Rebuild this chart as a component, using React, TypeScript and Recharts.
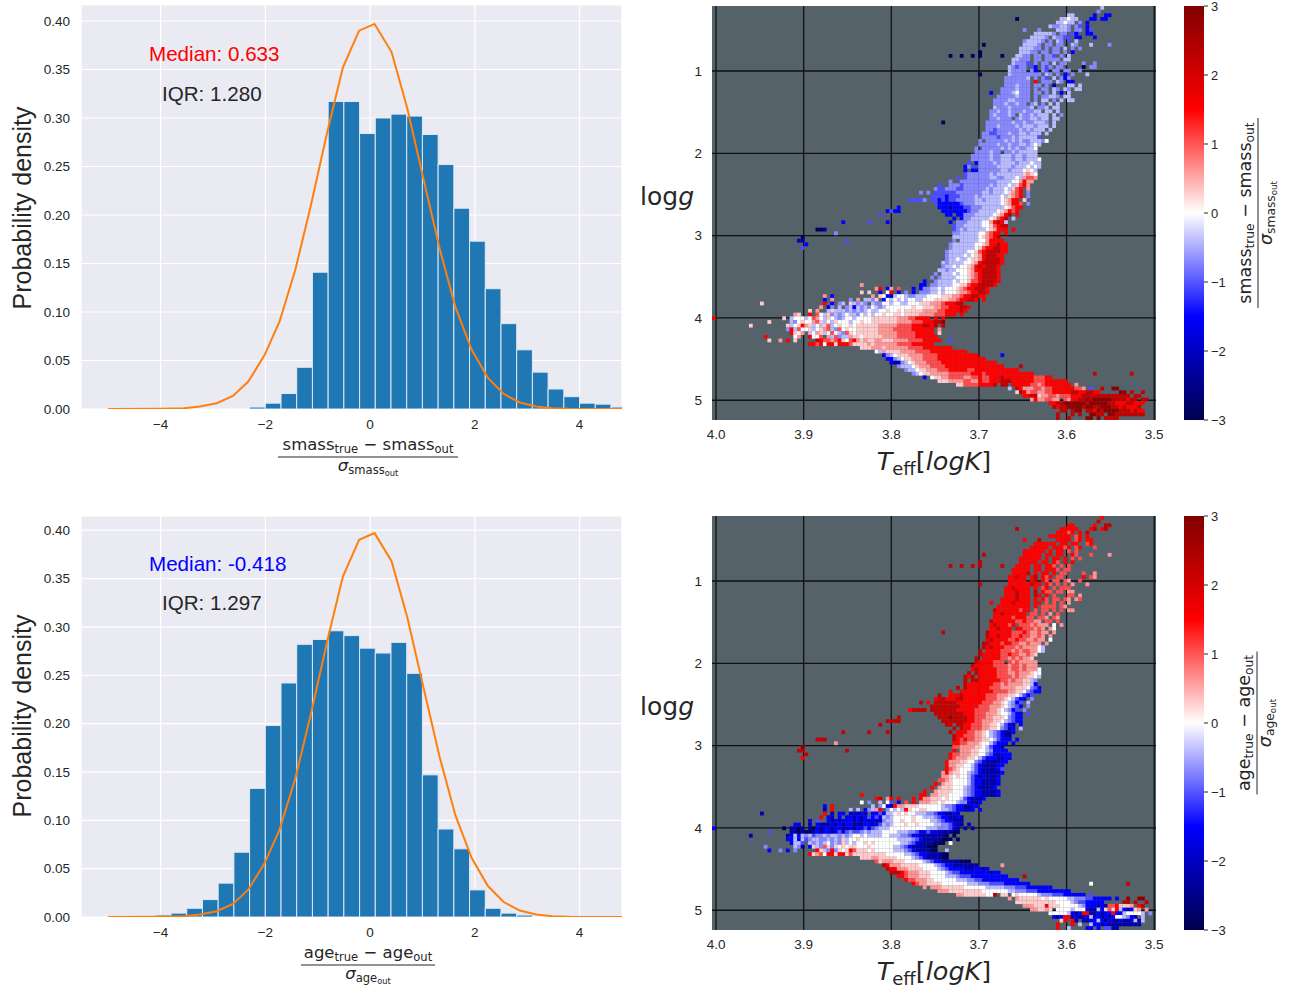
import React from 'react'
import {
  Bar, CartesianGrid, ComposedChart, Line, ReferenceLine, Scatter, ScatterChart, XAxis, YAxis,
} from 'recharts'

const INK = '#262626'
const SANS = '"Liberation Sans", Arial, sans-serif'
const MATH = '"DejaVu Sans", sans-serif'

// histogram bins (centre, density)
const smassBins = [-2.15, -1.85, -1.55, -1.25, -0.95, -0.65, -0.35, -0.05, 0.25, 0.55, 0.85, 1.15, 1.45, 1.75, 2.05, 2.35, 2.65, 2.95, 3.25, 3.55, 3.85, 4.15, 4.45, 4.75]
const smassDensity = [0.002, 0.006, 0.016, 0.043, 0.141, 0.317, 0.317, 0.284, 0.3, 0.304, 0.302, 0.283, 0.252, 0.207, 0.173, 0.124, 0.088, 0.061, 0.038, 0.0206, 0.0127, 0.006, 0.005, 0.002]
const ageBins = [-4.25, -3.95, -3.65, -3.35, -3.05, -2.75, -2.45, -2.15, -1.85, -1.55, -1.25, -0.95, -0.65, -0.35, -0.05, 0.25, 0.55, 0.85, 1.15, 1.45, 1.75, 2.05, 2.35, 2.65, 2.95]
const ageDensity = [0.0005, 0.002, 0.004, 0.009, 0.018, 0.035, 0.067, 0.133, 0.198, 0.242, 0.282, 0.287, 0.296, 0.291, 0.278, 0.273, 0.284, 0.252, 0.147, 0.091, 0.0705, 0.028, 0.009, 0.004, 0.002]

// orange reference curve, as drawn
const curveX = [-5, -4, -3.55, -3.25, -2.93, -2.62, -2.33, -2.02, -1.73, -1.43, -1.13, -0.82, -0.52, -0.21, 0.085, 0.41, 0.71, 1.02, 1.33, 1.63, 1.94, 2.25, 2.55, 2.86, 3.17, 3.47, 3.8, 4.8, 5]
const curveY = [0, 0.0002, 0.0008, 0.0025, 0.006, 0.0135, 0.028, 0.055, 0.09, 0.143, 0.21, 0.285, 0.352, 0.39, 0.397, 0.368, 0.31, 0.237, 0.165, 0.105, 0.061, 0.032, 0.0155, 0.0067, 0.0026, 0.0009, 0.0003, 0, 0]

const histXTicks = [-4, -2, 0, 2, 4]
const histYTicks = [0, 0.05, 0.1, 0.15, 0.2, 0.25, 0.3, 0.35, 0.4]
const teffTicks = [4.0, 3.9, 3.8, 3.7, 3.6, 3.5]
const loggTicks = [1, 2, 3, 4, 5]
const barTicks = [-3, -2, -1, 0, 1, 2, 3]

// heatmap letters -> binned residual
const levels: Record<string, number> = { a: -2.9, b: -2.2, c: -1.5, d: -1.05, e: -0.7, f: -0.4, w: 0, g: 0.3, h: 0.62, i: 1.05, j: 1.5, k: 2.2, l: 2.85 }

// one entry per logg row, top to bottom: [first Teff column, cell letters]
const smassRows: [number, string][] = [
  [105, 'f'], [104, 'e'], [96, 'ff.....c..cc'], [82, 'a...........ffwff...cc.cc'], [93, 'ffwff.e.c'],
  [91, 'feeffe.ed.c'], [84, 'e...e....fffe.ee.cd'], [87, 'fffffe.ee.dc..cc'], [86, 'ffffe.feedd.cc...c'], [84, 'effffe.e.fe.d.f'],
  [73, 'a..........ffffe.ee.ee..fe...f'], [83, 'ffffee.e.ee.f.e.e'], [72, 'a..........fffee.ee.ee.e.c'], [64, 'a..a..a.a.....a...ffee.ee.eed.e.f'], [81, 'ffeee.ee.eeee.ff'],
  [81, 'feeed.e.ee.f.ee....e..e'], [80, 'fedee.dc.ede.ee.....a.e'], [80, 'feeee.ec.ed.ee.ee..e'], [72, 'a.......feeeeeeee.fe.e.c.e'], [79, 'eeeeeef.e.ed.f.ece'],
  [79, 'eeeeeee.j.eee.fe.cc'], [79, 'eeefeee.ee.e.b...ff.f'], [78, 'eeeefeee.e.ee.fe.fe.ff'], [75, 'c..eeefweee.ee.e.f.c.f.'], [77, 'eeeeefeee.e.eeffe.ff'],
  [76, 'eeeeffeeee.e.ff.e.f.ff'], [76, 'eeefeefee.ef.e.f.f.'], [76, 'feeefeeeeef.eef.ff.'], [75, 'eefeefeeefeeff.ff.f'], [75, 'efeeefe.feefefff.f.e'],
  [75, 'eefeee.efeeffeff.ff'], [62, 'a...........eeeeeeefeefeefffe.f'], [74, 'eeefeeeefefffefff.f'], [74, 'eedeeeeeefefefff.f'], [73, 'eeddeeefeeffefff.f'],
  [73, 'eeeedeeefefffffd.'], [72, 'e.eeeeefefefeefffew'], [72, 'eeeeefeefeeffefwf'], [71, 'e.eeeeefefefeeffw'], [71, 'eeeefee.eefefffff.'],
  [70, 'eeeeefeefffeffefff'], [70, 'eeeeefeefffeffefffw'], [69, 'd.ceeeefeffffefffwff'], [68, 'ced.eeeeeffffefffwfwf'], [68, 'c.cceeeeeeffefffwgwf'],
  [68, 'deeeeeefefffffffghgw'], [66, 'd.deeeeeeffeefffwfhiih'], [64, 'e..eeeeeeeeeeffffwwhjhh.'], [61, 'd..eeedeeeeeeefefffwfgijh.'], [60, 'eddeeeddeeeeeefefffwfgij.h.'],
  [58, 'e.ddddddeeeeeeeffefffwghij.e.'], [58, '.ddddcdddeeeefefffffwfghij.e.'], [59, 'ddcdcddeeeeeffeffffwghjj.g.'], [60, 'dccccccdeeefffffffwghjji.e'], [61, 'cccbcccddeeeffffffwgijj.'],
  [62, 'cccccccdeefffffwghjij.'], [63, 'cc.cceeefffffwghjk.j.'], [65, 'c.ceefffffwgijk.f.'], [64, 'c.eeeffffwwhjkjf...'], [65, 'deefffffwwgijkk.'],
  [65, 'defefffffwghjjj.j'], [65, 'eefffffwwhijj.j'], [65, 'fffffffwghijk.'], [65, 'e.fffffwwhjjjj.'], [64, 'effffffwwghjjkjj'],
  [64, 'effffffwgijjkkjj'], [63, 'efffffwwgijkkkkjj'], [63, 'effffwfwghjkkkjj'], [63, 'effwffwgghjkkkkj'], [62, 'feffffwwghjkkkkkj'],
  [62, 'effwfwwghjkjkkkj'], [61, 'ffeffwwwghjjkkkkj'], [60, 'e.fffwfwwghijkkkkj'], [59, 'e.effffwwwghijkkkkj'], [57, 'c..effffwfwwgiijkkkkj'],
  [40, 'h...............cc.eeffffwwggijjkkkkj'], [44, 'hj.ch.i...c.ceeffwfwwwghijjkkkj.'], [40, 'g.g..c.wj.c.e.c.eeeffwfwwwghhijjkkj'], [30, 'h.c..........h.gwcbfwwfeefffwwwwggghhijjkkjj'], [30, 'c.h....e.h.ffeg.cwfwfwfwwffwwwgggghhijjkkj.j'],
  [13, 'g................j.c.ef.gfefe.feewwfwwffwwwggghhhijjjkk.'], [29, 'h.ce.f.efcfefewfefwwwwwwwgwwggghhiijjjkkj.'], [26, 'g.h..fgfffefefefwffwwgwwgwggggghhhhiijjjjkj.'], [22, 'hg..j.iwfgefefwffewfwfwwgwwggwgggghhhhiiijjj.j'], [0, 'j..................g.fwwwfwihwfgwfefwwfwwwwggggggghhhiijjjj.j.j'],
  [15, 'g.....fewgwwhigfwfgwwwfwwgwwggggggghhhhiiijjjkkl'], [10, 'g.........gfwgjhgfwfgifwgwwgwgggggghhhhhiiiijjjkkjk.k'], [20, 'ejfiwwgfwghifeiwgwwgggggghhhhiiiiijjjjjj.h'], [21, 'jgwh.fwhgfwiwfeigwgggggghhhhhiiiiijjjjj.g.'], [14, 'j.......wh..jwwi.hfieffhggwggggghhhhiiiiijjjjjj.'],
  [15, 'g..h.j.g.....kjiihijgwijhghgghhggghhhhiiiijjjjj..d'], [26, 'jjijwjjgjjjigggghghhhhhhiiiijjjjjj.'], [40, 'ggghhhghhhhhhiiiijjjjjjjj'], [44, 'wfhgggghhhhiiiijjjjjjjjjj'], [46, 'cefwggghhhhiiiijjjjjjjjjjj......c'],
  [47, 'ccefwgghhhiiiijjjjjjjjjjjjj'], [48, 'cbbefwghhhiiiijjjjjjjjjjjjjjj'], [50, 'efffwghhhiiiijjjjjjjjjjjjjjjj....k'], [52, 'effwgghhhiiijjjjjiijjjjjjjjjjjj'], [54, 'efwgghhhhhiiiiiijjjijjjjjjjjjjjjj................k.........k'],
  [57, 'c.wgghhiiiihhiijiijjjkjjjjjjjjiiijj'], [61, 'ggghhhhiihhjiijjjkkkjjjjjjiiijjjjjj'], [66, 'ggiiiijjjjk.kk.jjjjjiihijjjjjjj.h'], [80, 'f.kjhhhiihiijjjjjjiih.d..k..ll'], [82, 'gkjhiihhiijjjjjkkjjkkjj.....ll.k..k'],
  [84, 'jjkkghhiihiiijjjkkkkkkkkkkkkk.kk'], [85, '.hjhhiihh.ihjjkklklllllkkkkjkk.kk'], [91, 'jjkkllllllklllllkkjjjkkjjj'], [92, 'kjkkllllkllkklllkkjkjjjk'], [94, 'kk.kll.kkjlkllllkkkjkjj'],
  [93, 'k...k.k..llkk.llkkkkkkkk.......aa'], [93, 'k..k....ll.l.kkkk.............a'],
]

const ageRows: [number, string][] = [
  [105, 'j'], [104, 'k'], [96, 'jj.....j..kk'], [82, 'k...........jjjjj...jk.jk'], [93, 'jjjij.j.k'],
  [91, 'jjjjjj.ij.j'], [84, 'j...k....jjjj.ij.jj'], [87, 'jjjjjj.jj.jj..ij'], [86, 'jjjjj.jjjij.ij...i'], [84, 'jjjjjj.j.jj.i.i'],
  [73, 'k..........jjjjj.jj.jj..ji...i'], [83, 'jjjjjj.j.jj.j.i.i'], [72, 'k..........jjjjj.jj.ji.j.j'], [64, 'k..k..k.k.....k...jjjj.jj.jji.i.i'], [81, 'jjjjj.jj.jjji.ii'],
  [81, 'jjjjk.j.jj.j.ii....i..h'], [80, 'jjkjj.jk.jij.ii.....j.i'], [80, 'jjjjj.jk.ji.ii.ih..i'], [72, 'k.......jjjjjjkjj.ji.i.i.h'], [79, 'jjkjjjj.j.ij.i.iii'],
  [79, 'jjjkjjj.k.jii.ii.hh'], [79, 'jjjkjjj.kj.j.i...ii.h'], [78, 'jjjjkjjj.j.ji.ii.ih.hi'], [75, 'j..jjjkjjjj.jj.i.i.i.h.'], [77, 'jjjjjjjjj.j.iiii.ih'],
  [76, 'kjjjjjjijj.i.ii.i.i.hh'], [76, 'jjkjjjjjj.ii.i.h.i.'], [76, 'jjjjjijjjii.iih.ih.'], [75, 'kjjjjjjiijiihh.ii.i'], [75, 'jkjjjij.iiihihhh.w.h'],
  [75, 'jjkjjj.jjiiihih.hw'], [62, 'k...........kjjjjjjiiijihhihh.h'], [74, 'kjjkjjjiijiihhih.h'], [74, 'jkjjjjiijiihhihh.w'], [73, 'kkjjjijjiihhihhh.h'],
  [73, 'kjkjjjiiihihhhhwf'], [72, 'k.jjjjiiihihiihhwf'], [72, 'kjjjjjiijiihhihg'], [71, 'k.jjjjjiihihihhg'], [71, 'kjjjjiii.ihihhhhh.'],
  [70, 'kjjjjjiiiihiihihhh'], [70, 'jkjjjjjiiihiihihhhw'], [69, 'k.kjjjjjiiihhihhhgww'], [68, 'kjk.jjjjjiiiihihhggwf'], [68, 'k.kkjjjjjjiihihhggfe'],
  [68, 'kjjjjjjjiihihhhhggfc'], [66, 'k.kjjjjjjiiihhhhgggwedc'], [64, 'j..jjjjjjjjjiiiihhggwedcc.'], [61, 'k..jjjkjjjjjjiiihhhggwfdcd.'], [60, 'jkkjjjkkjjjjjjiiihhgwfdcc.e.'],
  [58, 'j.kkkkkkjjjjjjjiiihhgwfecd.f.'], [58, '.kkkkkkkkjjjjjiiihhhgwfedc.e.'], [59, 'kkkkkkkjjjjjiiiihhgwfecd.e.'], [60, 'kkkkkkkkjjjiiihhhgwwfdcc.d'], [61, 'kkklkkkkjjiiihhgggwedcc.'],
  [62, 'kkkkkkkjjiihhhggwfedcc.'], [63, 'kk.kkjjiiihhggwfdcb.c.'], [65, 'k.kjjiiihhggwedbc.f.'], [64, 'k.jjjiihhgwfedcbbc...'], [65, 'kjjiiihhgwfedcbb.'],
  [65, 'kjijiihhggwfdccc.c'], [65, 'jjiihhhgwwfdccc.c'], [65, 'iihhhhggwfdccb.'], [65, 'j.hhhggwwfecccc.'], [64, 'jiihhhggwwedcbccc'],
  [64, 'jihhhggwfdcccbbcc'], [63, 'jhhhggwwedcbbbbcc'], [63, 'jhhggwwfdcbbbbcc'], [63, 'jihgwwwfdcbbbbcd'], [62, 'hjhggwwfedcbbbbbc'],
  [62, 'hhgwgwwfdcbcbbbc'], [61, 'iihgwwwwfdccbbbbc'], [60, 'j.hggwwwwfdccbbbbc'], [59, 'j.hgggwwwfedcbbbbc'], [57, 'j..hggggwwwfedccbbbbc'],
  [40, 'j...............jj.hhgggwwwwfedccbbbbc'], [44, 'jk.hj.j...j.jhhgggwgwwwfdcbbbc.'], [40, 'w.e..f.wd.c.i.j.hhhggwgwwwfeecbbc'], [30, 'c.j..........f.ewcbjhhggggwwwwwwfeedccbbcc'], [30, 'b.j....f.f.cefhj.ewfwfjgwwggwwwwffedccbbc.c'],
  [13, 'b................j.b.cc.bcbcb.ccdcffwgwgwwfffeedccbbcb.'], [29, 'j.cb.c.ccbcbcdcdcfefwwwwwgwwfffedccbbcb.'], [26, 'c.d..cbcbcccbcbcbcbbeffwwgwwgwwwwffedccbbb.'], [22, 'cc..b.cbbbcbcbccbbbccbcdfefwwwgwwgwwwwffeedcbb.b'], [0, 'c..................a.bbab.bacbccbccbbcbccdcdefffwwwwwwwwwwfffeeedcb.b.b'],
  [15, 'd.....bbabaabcbccbcdcdeddefefffwwwwfffeedccdccbbbbaa'], [10, 'b.........bcfcfefdeefeffefefwwfwffffwwfffeedccbbbbbbba.a'], [20, 'ccfcfdeffeefefegfwwgwwwwwwwwwwffffedcbbbbbaaa.a'], [21, 'cffd.fefefwefegfwfwwgwgwwwwwwwffedcbbbbaaa.w.'], [14, 'e.......feb.cgfeigegwgwggwwwgwwwwwwffedcbbbbaaa.'],
  [15, 'c..e.c.e.....jgfejegwgjigggwgwwwwwfffedcbbbbaa..f'], [26, 'jghiwjjgjjgigggggggggwwwwwffedccbbbbaa.'], [40, 'ggghhgggggwwwwfedcbbbbaa'], [44, 'ighhhgggwwwwwfedccbbbbbaaa'], [46, 'kjhhhgggggwwwwfedccbbbbbbb......h'],
  [47, 'kjjhhhggggwwwwfedccccbbbccbc'], [48, 'kkkjihhhgggwwwwfeddccccccccbcc'], [50, 'jjihhhgggwwwwfffedddcccccccccc....k'], [52, 'jiihhhggwwwwwwfffeeddcccccccccc'], [54, 'jihhggggwwwwwwwfffeeeddddccccccc................w.........k'],
  [57, 'h.hhhggggggwwwwwwfffffeeedddccccccc'], [61, 'hhhgggggggggwwwwwwwffeeedddccccccccc'], [66, 'hhggggggwwk.gg.wgwwwwwfeeedddcccccc.d'], [80, 'h.hggggggwgwwwwwffeeeddccccc.c..l..ll'], [82, 'gggggggggggwwwwfeddccccc.....kk.k..k'],
  [84, 'hhhgggjgggwwwwwfecccbcbiijgggh.jk'], [85, '.hhgghg.wwwwfwwwcbbfcgigjfcbcgh.h'], [91, 'wwwwwfcbcjjbbcbccjccfwwwwf.e'], [92, 'cbcjjbcbbcfbcbcbcwwfecb.f'], [94, 'gj.jb.bbccfcbcbbcbbcfbf'],
  [93, 'j...j.f..fccbcbbbbbbbbb.......ff'], [93, 'j..f....cc.c.ddbb.............f'],
]

// lone cells off the main sequences: [row, column, letter]
const smassStrays: [number, number, string][] = [
  [50, 56, 'e'], [52, 53, 'd'], [52, 54, 'd'], [52, 55, 'd'], [52, 56, 'd'], [52, 57, 'e'], [54, 50, 'c'], [55, 47, 'c'], [55, 48, 'd'], [55, 49, 'c'], [55, 50, 'c'],
  [56, 45, 'd'], [58, 35, 'c'], [58, 42, 'd'], [58, 47, 'c'], [60, 28, 'a'], [60, 29, 'a'], [60, 30, 'b'], [61, 33, 'e'], [62, 24, 'a'], [63, 23, 'b'], [63, 24, 'b'], [63, 36, 'd'],
  [64, 25, 'c'], [65, 24, 'd'], [10, 107, 'e'], [16, 103, 'e'], [18, 101, 'f'],
]
const ageStrays: [number, number, string][] = [
  [50, 56, 'k'], [52, 53, 'j'], [52, 54, 'k'], [52, 55, 'k'], [52, 56, 'k'], [52, 57, 'k'], [54, 50, 'k'], [55, 47, 'k'], [55, 48, 'k'], [55, 49, 'k'], [55, 50, 'k'],
  [56, 45, 'k'], [58, 35, 'k'], [58, 42, 'k'], [58, 47, 'k'], [60, 28, 'k'], [60, 29, 'k'], [60, 30, 'k'], [61, 33, 'h'], [62, 24, 'l'], [63, 23, 'k'], [63, 24, 'k'], [63, 36, 'k'],
  [64, 25, 'k'], [65, 24, 'j'], [10, 107, 'h'], [16, 103, 'h'], [18, 101, 'h'],
]

const seismicStops: [number, number[]][] = [
  [-3, [0, 0, 77]], [-1.5, [0, 0, 255]], [0, [255, 255, 255]], [1.5, [255, 0, 0]], [3, [128, 0, 0]],
]

function seismic(v: number) {
  for (let i = 1; i < seismicStops.length; i++) {
    const [v1, c1] = seismicStops[i]
    const [v0, c0] = seismicStops[i - 1]
    if (v <= v1) {
      const f = (v - v0) / (v1 - v0)
      return `rgb(${c0.map((c, k) => Math.round(c + (c1[k] - c) * f)).join(',')})`
    }
  }
  return 'rgb(128,0,0)'
}

const toCell = (r: number, c: number, ch: string) => ({
  teff: 4.0046 - (c + 0.5) * 0.00422,
  logg: 0.21 + (r + 0.5) * 0.0449,
  v: levels[ch],
})

function rowsToCells(rows: [number, string][], strays: [number, number, string][]) {
  const cells: { teff: number; logg: number; v: number }[] = []
  rows.forEach(([start, text], r) => {
    text.split('').forEach((ch, c) => {
      if (ch !== '.') cells.push(toCell(r, start + c, ch))
    })
  })
  strays.forEach(([r, c, ch]) => cells.push(toCell(r, c, ch)))
  return cells
}

const tinyCell = (props: any) => (
  <rect x={props.cx - 1.9} y={props.cy - 1.9} width={3.8} height={3.8} fill={seismic(props.payload.v)} />
)

// bins are 0.3 wide on the x axis, about 15.7px
const histBar = (props: any) => (
  <rect x={props.x + props.width / 2 - 7.85} y={props.y} width={15.7} height={props.height} fill="#1f77b4" stroke="#dfe8f2" strokeWidth={1} />
)

const minus = (v: number, digits = 0) => (v < 0 ? '\u2212' : '') + Math.abs(v).toFixed(digits)

function Hist({ top, height, plotTop, plotBottom, yMax, bins, density }: any) {
  const rows = bins.map((x: number, i: number) => ({ x, density: density[i] }))
  const curve = curveX.map((x, i) => ({ x, y: curveY[i] }))
  return (
    <div style={{ position: 'absolute', left: 0, top }}>
      <ComposedChart width={640} height={height} data={rows} margin={{ top: plotTop, right: 18, bottom: 0, left: 0 }}>
        <CartesianGrid stroke="#ffffff" strokeWidth={1.2} fill="#eaeaf2" />
        <XAxis type="number" dataKey="x" domain={[-5.52, 4.81]} allowDataOverflow ticks={histXTicks} height={height - plotBottom}
          axisLine={false} tickLine={false} tickSize={0} tickMargin={10} tickFormatter={(v) => minus(v)}
          tick={{ fontFamily: SANS, fontSize: 13.5, fill: INK }} />
        <YAxis type="number" domain={[0, yMax]} allowDataOverflow ticks={histYTicks} width={81}
          axisLine={false} tickLine={false} tickSize={0} tickMargin={11} tickFormatter={(v) => v.toFixed(2)}
          tick={{ fontFamily: SANS, fontSize: 13.5, fill: INK }} />
        <Bar dataKey="density" shape={histBar} isAnimationActive={false} />
        <Line data={curve} dataKey="y" stroke="#ff7f0e" strokeWidth={2} dot={false} isAnimationActive={false} />
      </ComposedChart>
    </div>
  )
}

function Heat({ top, height, plotTop, plotBottom, cells }: any) {
  return (
    <div style={{ position: 'absolute', left: 640, top }}>
      <ScatterChart width={660} height={height} margin={{ top: plotTop, right: 144, bottom: 0, left: 0 }}>
        <CartesianGrid horizontal={false} vertical={false} fill="#56626a" />
        <XAxis type="number" dataKey="teff" domain={[3.498, 4.0046]} reversed allowDataOverflow ticks={teffTicks} height={height - plotBottom}
          axisLine={false} tickLine={false} tickSize={0} tickMargin={9} tickFormatter={(v) => v.toFixed(1)}
          tick={{ fontFamily: SANS, fontSize: 13.5, fill: INK }} />
        <YAxis type="number" dataKey="logg" domain={[0.21, 5.24]} reversed allowDataOverflow ticks={loggTicks} width={72}
          axisLine={false} tickLine={false} tickSize={0} tickMargin={10}
          tick={{ fontFamily: SANS, fontSize: 13.5, fill: INK }} />
        <Scatter data={cells} shape={tinyCell} isAnimationActive={false} />
        {teffTicks.map((t) => <ReferenceLine key={t} x={t} stroke="#111111" strokeWidth={1.3} />)}
        {loggTicks.map((t) => <ReferenceLine key={t} y={t} stroke="#111111" strokeWidth={1.3} />)}
      </ScatterChart>
    </div>
  )
}

function ColorBar({ id, top, height, plotTop, plotBottom }: any) {
  return (
    <div style={{ position: 'absolute', left: 1184, top }}>
      <ComposedChart width={80} height={height} data={[{ name: 'range', span: [-3, 3] }]} barCategoryGap={0}
        margin={{ top: plotTop, right: 0, bottom: height - plotBottom, left: 0 }}>
        <defs>
          <linearGradient id={id} x1="0" y1="1" x2="0" y2="0">
            {seismicStops.map(([v]) => <stop key={v} offset={`${((v + 3) / 6) * 100}%`} stopColor={seismic(v)} />)}
          </linearGradient>
        </defs>
        <XAxis dataKey="name" hide />
        <YAxis type="number" orientation="right" domain={[-3, 3]} ticks={barTicks} width={60} axisLine={false} interval={0}
          tickSize={4} tickMargin={3} tickLine={{ stroke: INK }} tickFormatter={(v) => minus(v)}
          tick={{ fontFamily: SANS, fontSize: 13, fill: INK }} />
        <Bar dataKey="span" fill={`url(#${id})`} isAnimationActive={false} />
      </ComposedChart>
    </div>
  )
}

function Fraction({ x, y, name, size = 16.5, rotate = false, len }: any) {
  // numerator baseline sits above the rule, denominator below
  const t = rotate ? `translate(${x},${y}) rotate(-90)` : `translate(${x},${y})`
  return (
    <g transform={t} fontFamily={MATH} fill={INK} textAnchor="middle">
      <text y={-7} fontSize={size}>
        {name}<tspan fontSize={size * 0.7} dy={3}>true</tspan>
        <tspan dy={-3}> − {name}</tspan><tspan fontSize={size * 0.7} dy={3}>out</tspan>
      </text>
      <line x1={-len / 2} x2={len / 2} y1={0} y2={0} stroke={INK} strokeWidth={1} />
      <text y={14} fontSize={size}>
        <tspan fontStyle="italic">σ</tspan><tspan fontSize={size * 0.7} dy={3}>{name}</tspan>
        <tspan fontSize={size * 0.5} dy={2}>out</tspan>
      </text>
    </g>
  )
}

function Overlay() {
  const logg = (y: number) => (
    <text x={640} y={y} fontFamily={MATH} fontSize={25} fill={INK}>log<tspan fontStyle="italic">g</tspan></text>
  )
  const teff = (y: number) => (
    <text x={934} y={y} textAnchor="middle" fontFamily={MATH} fontSize={25.5} fill={INK}>
      <tspan fontStyle="italic">T</tspan><tspan fontSize={18} dy={5}>eff</tspan><tspan dy={-5}>[</tspan><tspan fontStyle="italic">logK</tspan>]
    </text>
  )
  const probability = (y: number) => (
    <text transform={`translate(31,${y}) rotate(-90)`} textAnchor="middle" fontFamily={SANS} fontSize={25} fill={INK}>Probability density</text>
  )
  return (
    <svg width={1300} height={989} style={{ position: 'absolute', left: 0, top: 0, pointerEvents: 'none' }}>
      {probability(208)}
      {probability(716)}
      <text x={149} y={61} fontFamily={SANS} fontSize={20.6} fill="#ff0000">Median: 0.633</text>
      <text x={162} y={101} fontFamily={SANS} fontSize={20.6} fill={INK}>IQR: 1.280</text>
      <text x={149} y={571} fontFamily={SANS} fontSize={20.6} fill="#0000ff">Median: -0.418</text>
      <text x={162} y={610} fontFamily={SANS} fontSize={20.6} fill={INK}>IQR: 1.297</text>
      <Fraction x={368} y={457} name="smass" len={180} />
      <Fraction x={368} y={965} name="age" len={134} />
      {logg(205)}
      {logg(715)}
      {teff(470)}
      {teff(980)}
      <Fraction x={1258} y={213} name="smass" len={190} size={17.5} rotate />
      <Fraction x={1257} y={723} name="age" len={143} size={17.5} rotate />
    </svg>
  )
}

const smassCells = rowsToCells(smassRows, smassStrays)
const ageCells = rowsToCells(ageRows, ageStrays)

export default function App() {
  return (
    <div style={{ position: 'absolute', left: 0, top: 0, width: 1300, height: 989, background: '#ffffff', overflow: 'hidden' }}>
      <Hist top={0} height={490} plotTop={5} plotBottom={409} yMax={0.4165} bins={smassBins} density={smassDensity} />
      <Hist top={500} height={489} plotTop={16} plotBottom={417} yMax={0.4147} bins={ageBins} density={ageDensity} />
      <Heat top={0} height={490} plotTop={6} plotBottom={420} cells={smassCells} />
      <Heat top={510} height={479} plotTop={6} plotBottom={420} cells={ageCells} />
      <ColorBar id="barTop" top={0} height={490} plotTop={6} plotBottom={420} />
      <ColorBar id="barBottom" top={510} height={479} plotTop={6} plotBottom={420} />
      <Overlay />
    </div>
  )
}
